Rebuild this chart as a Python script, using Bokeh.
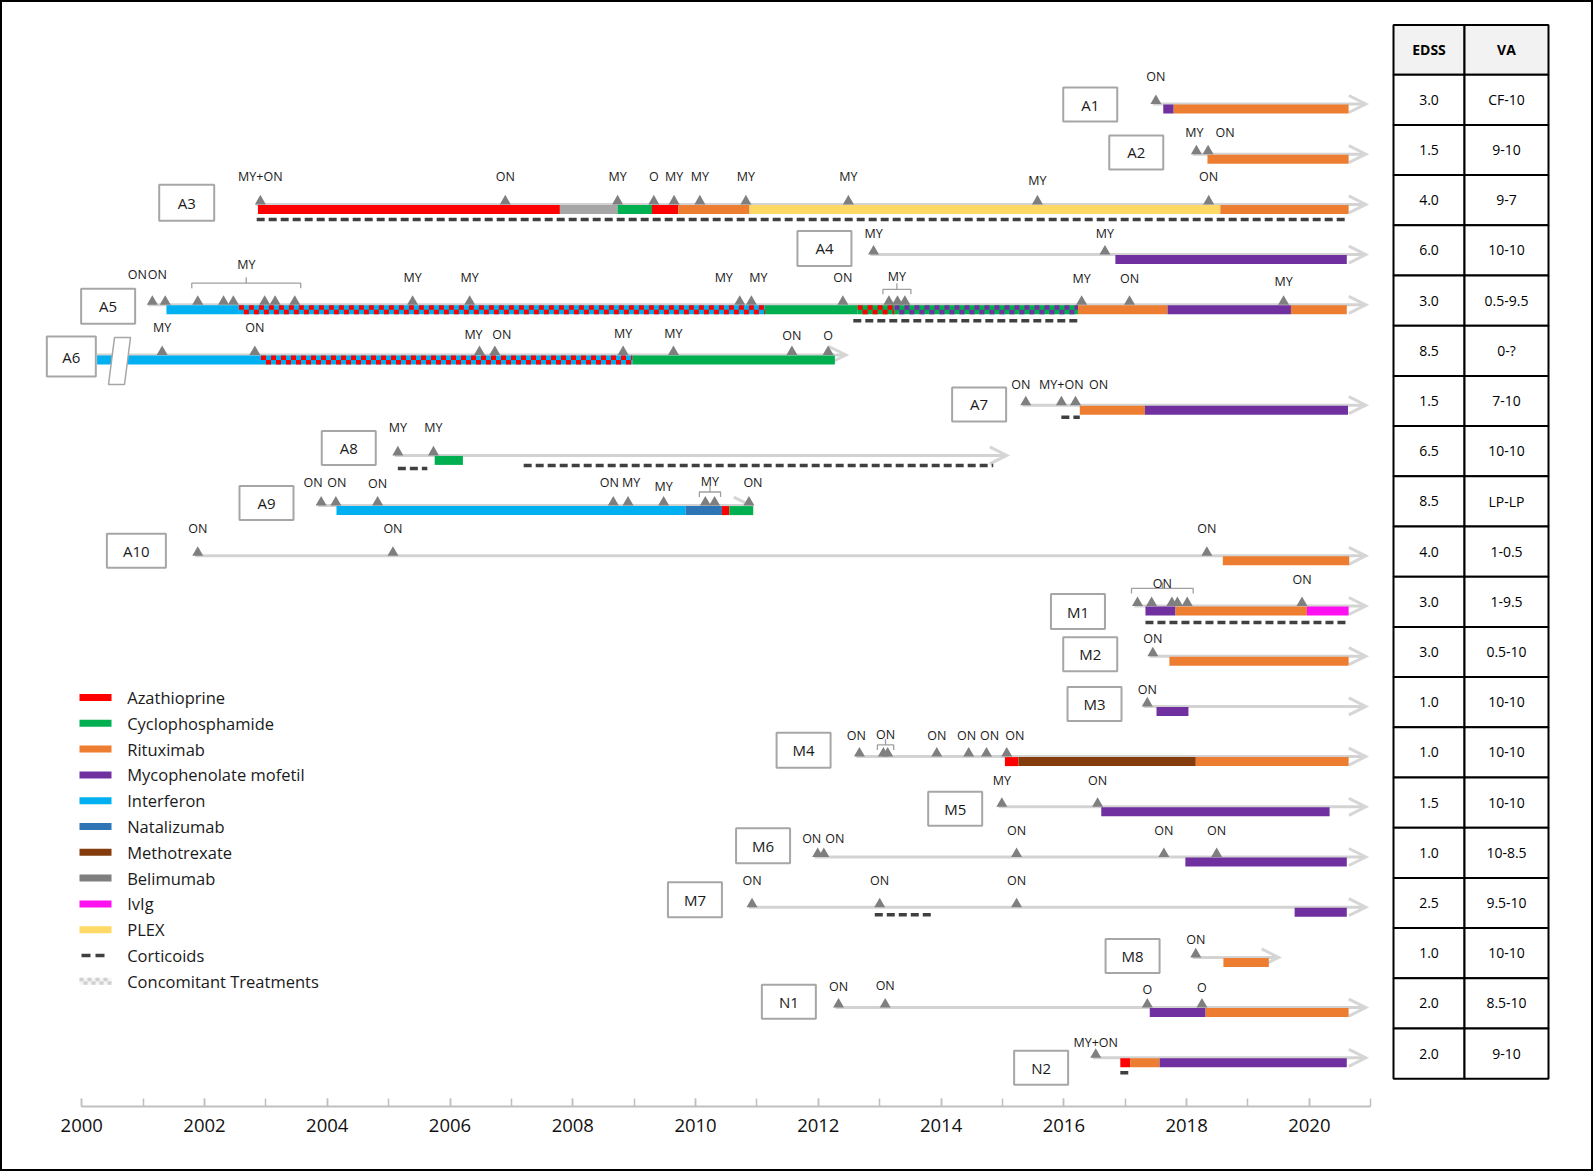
import numpy as np
from bokeh.plotting import figure
from bokeh.models import Range1d, FixedTicker
from bokeh.core.properties import value
from bokeh.embed import file_html
from bokeh.resources import INLINE

FONT = value("Open Sans")

# ---------------- DATA ----------------
patients = ["A1", "A2", "A3", "A4", "A5", "A6", "A7", "A8", "A9", "A10",
            "M1", "M2", "M3", "M4", "M5", "M6", "M7", "M8", "N1", "N2"]
edss = ["3.0", "1.5", "4.0", "6.0", "3.0", "8.5", "1.5", "6.5", "8.5", "4.0",
        "3.0", "3.0", "1.0", "1.0", "1.5", "1.0", "2.5", "1.0", "2.0", "2.0"]
va = ["CF-10", "9-10", "9-7", "10-10", "0.5-9.5", "0-?", "7-10", "10-10", "LP-LP", "1-0.5",
      "1-9.5", "0.5-10", "10-10", "10-10", "10-10", "10-8.5", "9.5-10", "10-10", "8.5-10", "9-10"]

drug_codes = ["AZA", "CYC", "RTX", "MMF", "IFN", "NTZ", "MTX", "BEL", "IVIG", "PLEX"]
drug_names = ["Azathioprine", "Cyclophosphamide", "Rituximab", "Mycophenolate mofetil",
              "Interferon", "Natalizumab", "Methotrexate", "Belimumab", "IvIg", "PLEX"]

tick_years = list(range(2000, 2021, 2))
tick_labels = [str(y) for y in tick_years]
minor_years = list(range(2000, 2022))

# follow-up timelines (start, end) per patient
fu_start = [2017.45, 2018.10, 2002.85, 2012.85, 2001.08, 2000.25, 2015.33, 2005.10, 2003.85, 2001.85,
            2017.15, 2017.40, 2017.30, 2012.62, 2014.94, 2011.94, 2010.87, 2018.10, 2012.28, 2016.47]
fu_end = [2020.92, 2020.92, 2020.92, 2020.92, 2020.92, 2012.45, 2020.92, 2015.07, 2010.90, 2020.92,
          2020.92, 2020.92, 2020.92, 2020.92, 2020.92, 2020.92, 2020.92, 2019.50, 2020.92, 2020.92]

# treatments: row, start, end, drug, concomitant drug ("" if none)
tr_row = [0, 0,
          1,
          2, 2, 2, 2, 2, 2, 2,
          3,
          4, 4, 4, 4, 4, 4, 4, 4,
          5, 5, 5,
          6, 6,
          7,
          8, 8, 8, 8,
          9,
          10, 10, 10,
          11,
          12,
          13, 13, 13,
          14,
          15,
          16,
          17,
          18, 18,
          19, 19, 19]
tr_start = [2017.62, 2017.79,
            2018.34,
            2002.87, 2007.79, 2008.73, 2009.29, 2009.72, 2010.88, 2018.55,
            2016.84,
            2001.38, 2002.56, 2011.13, 2012.64, 2013.24, 2016.23, 2017.69, 2019.70,
            2000.25, 2002.92, 2008.97,
            2016.26, 2017.32,
            2005.75,
            2004.15, 2009.84, 2010.43, 2010.55,
            2018.59,
            2017.33, 2017.82, 2019.96,
            2017.72,
            2017.51,
            2015.04, 2015.26, 2018.15,
            2016.61,
            2017.98,
            2019.76,
            2018.60,
            2017.40, 2018.31,
            2016.92, 2017.08, 2017.56]
tr_end = [2017.79, 2020.64,
          2020.64,
          2007.79, 2008.73, 2009.29, 2009.72, 2010.88, 2018.55, 2020.64,
          2020.61,
          2002.56, 2011.13, 2012.64, 2013.24, 2016.23, 2017.69, 2019.70, 2020.61,
          2002.92, 2008.97, 2012.27,
          2017.32, 2020.63,
          2006.21,
          2009.84, 2010.43, 2010.55, 2010.94,
          2020.65,
          2017.82, 2019.96, 2020.64,
          2020.64,
          2018.03,
          2015.26, 2018.15, 2020.64,
          2020.33,
          2020.61,
          2020.61,
          2019.34,
          2018.31, 2020.64,
          2017.08, 2017.56, 2020.61]
tr_drug = ["MMF", "RTX",
           "RTX",
           "AZA", "BEL", "CYC", "AZA", "RTX", "PLEX", "RTX",
           "MMF",
           "IFN", "IFN", "CYC", "CYC", "CYC", "RTX", "MMF", "RTX",
           "IFN", "IFN", "CYC",
           "RTX", "MMF",
           "CYC",
           "IFN", "NTZ", "AZA", "CYC",
           "RTX",
           "MMF", "RTX", "IVIG",
           "RTX",
           "MMF",
           "AZA", "MTX", "RTX",
           "MMF",
           "MMF",
           "MMF",
           "RTX",
           "MMF", "RTX",
           "AZA", "RTX", "MMF"]
tr_drug2 = ["", "",
            "",
            "", "", "", "", "", "", "",
            "",
            "", "AZA", "", "AZA", "MMF", "", "", "",
            "", "AZA", "",
            "", "",
            "",
            "", "", "", "",
            "",
            "", "", "",
            "",
            "",
            "", "", "",
            "",
            "",
            "",
            "",
            "", "",
            "", "", ""]

# corticoid courses
cs_row = [2, 4, 6, 7, 7, 10, 16, 19]
cs_start = [2002.85, 2012.57, 2015.96, 2005.15, 2007.20, 2017.33, 2012.92, 2016.92]
cs_end = [2020.58, 2016.23, 2016.26, 2005.63, 2014.85, 2020.59, 2013.85, 2017.05]

# clinical events: row, year, label, group (-1 = single)
ev_row = [0,
          1, 1,
          2, 2, 2, 2, 2, 2, 2, 2, 2, 2,
          3, 3,
          4, 4, 4, 4, 4, 4, 4, 4, 4, 4, 4, 4, 4, 4, 4, 4, 4, 4, 4,
          5, 5, 5, 5, 5, 5, 5, 5,
          6, 6, 6,
          7, 7,
          8, 8, 8, 8, 8, 8, 8, 8, 8,
          9, 9, 9,
          10, 10, 10, 10, 10, 10,
          11,
          12,
          13, 13, 13, 13, 13, 13, 13,
          14, 14,
          15, 15, 15, 15, 15,
          16, 16, 16,
          17,
          18, 18, 18, 18,
          19]
ev_year = [2017.50,
           2018.16, 2018.35,
           2002.91, 2006.90, 2008.73, 2009.32, 2009.65, 2010.07, 2010.82, 2012.49, 2015.57, 2018.36,
           2012.90, 2016.67,
           2001.15, 2001.36, 2001.89, 2002.31, 2002.47, 2002.98, 2003.15, 2003.47, 2005.39, 2006.32,
           2010.72, 2010.91, 2012.40, 2013.15, 2013.29, 2013.41, 2016.29, 2017.07, 2019.58,
           2001.31, 2002.82, 2006.48, 2006.73, 2008.82, 2009.64, 2011.57, 2012.16,
           2015.38, 2015.96, 2016.19,
           2005.15, 2005.73,
           2003.90, 2004.14, 2004.82, 2008.66, 2008.90, 2009.48, 2010.16, 2010.31, 2010.87,
           2001.89, 2005.07, 2018.33,
           2017.20, 2017.43, 2017.76, 2017.85, 2018.01, 2019.88,
           2017.45,
           2017.36,
           2012.67, 2013.06, 2013.13, 2013.93, 2014.45, 2014.74, 2015.07,
           2014.99, 2016.55,
           2011.99, 2012.09, 2015.23, 2017.63, 2018.49,
           2010.92, 2013.00, 2015.23,
           2018.15,
           2012.33, 2013.09, 2017.36, 2018.25,
           2016.52]
ev_label = ["ON",
            "MY", "ON",
            "MY+ON", "ON", "MY", "O", "MY", "MY", "MY", "MY", "MY", "ON",
            "MY", "MY",
            "ON", "ON", "", "", "", "", "", "", "MY", "MY", "MY", "MY", "ON", "", "", "", "MY", "ON", "MY",
            "MY", "ON", "MY", "ON", "MY", "MY", "ON", "O",
            "ON", "MY+ON", "ON",
            "MY", "MY",
            "ON", "ON", "ON", "ON", "MY", "MY", "", "", "ON",
            "ON", "ON", "ON",
            "", "", "", "", "", "ON",
            "ON",
            "ON",
            "ON", "", "", "ON", "ON", "ON", "ON",
            "MY", "ON",
            "ON", "ON", "ON", "ON", "ON",
            "ON", "ON", "ON",
            "ON",
            "ON", "ON", "O", "O",
            "MY+ON"]
ev_group = [-1,
            -1, -1,
            -1, -1, -1, -1, -1, -1, -1, -1, -1, -1,
            -1, -1,
            -1, -1, 0, 0, 0, 0, 0, 0, -1, -1, -1, -1, -1, 1, 1, 1, -1, -1, -1,
            -1, -1, -1, -1, -1, -1, -1, -1,
            -1, -1, -1,
            -1, -1,
            -1, -1, -1, -1, -1, -1, 2, 2, -1,
            -1, -1, -1,
            3, 3, 3, 3, 3, -1,
            -1,
            -1,
            -1, 4, 4, -1, -1, -1, -1,
            -1, -1,
            -1, -1, -1, -1, -1,
            -1, -1, -1,
            -1,
            -1, -1, -1, -1,
            -1]
grp_label = ["MY", "MY", "MY", "ON", "ON"]

# ---------------- LAYOUT / STYLE (pixels) ----------------
ev_dx = [0,
         -2, 17,
         0, 0, 0, 0, 0, 0, 0, 0, 0, 0,
         0, 0,
         -15, -8, 0, 0, 0, 0, 0, 0, 0, 0, -16, 7, 0, 0, 0, 0, 0, 0, 0,
         0, 0, -6, 7, 0, 0, 0, 0,
         -5, 0, 23,
         0, 0,
         -8, 1, 0, -4, 3, 0, 0, 0, 4,
         0, 0, 0,
         0, 0, 0, 0, 0, 0,
         0,
         0,
         -3, 0, 0, 0, -2, 3, 8,
         0, 0,
         -6, 11, 0, 0, 0,
         0, 0, 0,
         0,
         0, 0, 0, 0,
         0]
ev_h = [28,
        22, 22,
        28, 28, 28, 28, 28, 28, 28, 28, 24, 28,
        21, 21,
        30, 30, 0, 0, 0, 0, 0, 0, 27, 27, 27, 27, 27, 0, 0, 0, 26, 26, 23,
        28, 28, 21, 21, 22, 22, 20, 20,
        21, 21, 21,
        28, 28,
        23, 23, 22, 23, 23, 19, 0, 0, 23,
        27, 27, 27,
        0, 0, 0, 0, 0, 27,
        18,
        17,
        21, 0, 0, 21, 21, 21, 21,
        26, 26,
        19, 19, 27, 27, 27,
        27, 27, 27,
        18,
        21, 22, 18, 20,
        15]
grp_bh = [21.6, 15.5, 13.6, 17.6, 11.7]
grp_lh = [40, 28.5, 24, 23, 22]
cs_dy = [15, 16, 12, 13, 10, 16.5, 7.5, 15]

box_x = [2016.43, 2017.18, 2001.71, 2012.10, 2000.43, 1999.83, 2014.62, 2004.35, 2003.01, 2000.89,
         2016.23, 2016.43, 2016.50, 2011.76, 2014.23, 2011.10, 2009.99, 2017.12, 2011.52, 2015.63]
box_dy = [0.6, -1.8, -1.7, -6.2, 1.5, 1.6, -0.8, -7.4, -2.7, -5.1,
          5.6, -1.9, -2.3, -6.3, 1.9, -11.2, -7.5, -1.3, -5.8, 10]
box_w = [54, 54, 55, 54, 54, 49, 54, 54, 54, 59, 54, 54, 54, 54, 54, 54, 54, 54, 54, 54]
box_h = [34, 34, 36, 35, 35, 40, 34, 34, 34, 34, 35, 34, 34, 35, 34, 35, 35, 34, 34, 34]

colors = {"AZA": "#FF0000", "CYC": "#00B050", "RTX": "#ED7D31", "MMF": "#7030A0",
          "IFN": "#00B0F0", "NTZ": "#2E75B6", "MTX": "#843C0C", "BEL": "#A6A6A6",
          "IVIG": "#FF10F0", "PLEX": "#FFD966"}
legend_colors = dict(colors, BEL="#7F7F7F")

# pixel <-> data mapping
W, H = 1593, 1171
OX, OY = 2, 2             # page position of drawing origin
X0PX, PXY = 81.25, 61.38  # page x of 2000, px per year
Y0PX, PXR = 103.5, 50.2   # page y of row 0, px per row
AXIS_Y = 1106


def xyear(X):
    return 2000 + (X - X0PX) / PXY


def yrow(Y):
    return (Y - Y0PX) / PXR


def dx(px):
    return px / PXY


def dy(px):
    return px / PXR


frame_h = AXIS_Y - OY
p = figure(width=W, height=H,
           x_range=Range1d(xyear(OX), xyear(OX + W)),
           y_range=Range1d(start=yrow(AXIS_Y), end=yrow(OY)),
           output_backend="svg", toolbar_location=None, y_axis_location=None,
           min_border_left=0, min_border_right=0, min_border_top=0,
           min_border_bottom=H - frame_h, outline_line_color=None,
           background_fill_color="white", border_fill_color="white",
           styles={"border": "2px solid black"})
p.grid.visible = False

ax = p.xaxis[0]
ax.ticker = FixedTicker(ticks=tick_years, minor_ticks=minor_years)
ax.major_label_overrides = dict(zip(tick_years, tick_labels))
ax.bounds = (2000, 2021)
ax.axis_line_color = "#BFBFBF"
ax.axis_line_width = 2
ax.major_tick_in = 8
ax.major_tick_out = 0
ax.minor_tick_in = 8
ax.minor_tick_out = 0
ax.major_tick_line_color = "#BFBFBF"
ax.minor_tick_line_color = "#BFBFBF"
ax.major_tick_line_width = 1.5
ax.minor_tick_line_width = 1.5
ax.major_label_text_font = "Open Sans"
ax.major_label_text_font_size = "18.5px"
ax.major_label_text_color = "#111111"
ax.major_label_standoff = 12

rows = list(range(len(patients)))

# follow-up lines + arrow heads
p.segment(x0=fu_start, y0=rows, x1=[e - dx(2) for e in fu_end], y1=rows,
          line_color="#D3D3D3", line_width=3)
p.multi_line(xs=[[e - dx(17), e, e - dx(17)] for e in fu_end],
             ys=[[r - dy(8.5), r, r + dy(8.5)] for r in rows],
             line_color="#D6D6D6", line_width=3, line_join="miter")

# treatment bars
BT, BB = 0.5, 9.5
p.quad(left=tr_start, right=tr_end,
       top=[r + dy(BT) for r in tr_row], bottom=[r + dy(BB) for r in tr_row],
       fill_color=[colors[d] for d in tr_drug], line_color=None)


def checker(s, e, top, cw, ch, nrows):
    L, R, T, B = [], [], [], []
    step = dx(cw)
    n = int(np.ceil((e - s) / step - 1e-9))
    for i in range(n):
        for j in range(nrows):
            if (i + j) % 2 == 0:
                L.append(s + i * step)
                R.append(min(s + (i + 1) * step, e))
                T.append(top + j * dy(ch))
                B.append(top + (j + 1) * dy(ch))
    return L, R, T, B


for r, s, e, d2 in zip(tr_row, tr_start, tr_end, tr_drug2):
    if d2:
        L, R, T, B = checker(s, e, r + dy(BT), 5, (BB - BT) / 2, 2)
        p.quad(left=L, right=R, top=T, bottom=B, fill_color=colors[d2], line_color=None)

# corticoids
p.segment(x0=cs_start, x1=cs_end, y0=[r + dy(o) for r, o in zip(cs_row, cs_dy)],
          y1=[r + dy(o) for r, o in zip(cs_row, cs_dy)],
          line_color="#404040", line_width=3.5, line_dash="8 4")

# A6 axis break marker
brk = 2000.436
p.patch(x=[brk + dx(6), brk + dx(22), brk + dx(16), brk],
        y=[5 - dy(17.5), 5 - dy(17.5), 5 + dy(29.5), 5 + dy(29.5)],
        fill_color="white", line_color="#A6A6A6", line_width=1.5)

# brackets for grouped events
bx, by = [], []
glx, gly, gtx = [], [], []
for g, lab in enumerate(grp_label):
    yrs = [y for y, gg in zip(ev_year, ev_group) if gg == g]
    rr = [r for r, gg in zip(ev_row, ev_group) if gg == g][0]
    x0, x1 = min(yrs) - dx(6), max(yrs) + dx(6)
    yb = rr - dy(grp_bh[g])
    bx.append([x0, x0, x1, x1])
    by.append([yb + dy(5), yb, yb, yb + dy(5)])
    xm = (x0 + x1) / 2
    bx.append([xm, xm])
    by.append([yb, yb - dy(6)])
    glx.append(xm)
    gly.append(rr - dy(grp_lh[g]))
    gtx.append(lab)
p.multi_line(xs=bx, ys=by, line_color="#A0A0A0", line_width=1.3)
p.text(x=glx, y=gly, text=gtx, text_font=FONT, text_font_size="12.5px",
       text_align="center", text_baseline="middle", text_color="#1a1a1a")

# events (triangles)
p.scatter(x=ev_year, y=[r - dy(3.2) for r in ev_row], marker="triangle", size=11,
          fill_color="#7F7F7F", line_color=None)
lab_idx = [i for i, l in enumerate(ev_label) if l]
p.text(x=[ev_year[i] for i in lab_idx], y=[ev_row[i] - dy(ev_h[i]) for i in lab_idx],
       text=[ev_label[i] for i in lab_idx], x_offset=[ev_dx[i] for i in lab_idx],
       text_font=FONT, text_font_size="12.5px", text_align="center",
       text_baseline="middle", text_color="#1a1a1a")

# patient boxes
p.rect(x=box_x, y=[r + dy(o) for r, o in zip(rows, box_dy)],
       width=[dx(w) for w in box_w], height=[dy(h) for h in box_h],
       fill_color="white", line_color="#A6A6A6", line_width=2)
p.text(x=box_x, y=[r + dy(o) for r, o in zip(rows, box_dy)], text=patients,
       text_font=FONT, text_font_size="15px", text_align="center",
       text_baseline="middle", text_color="#1a1a1a")

# table
tx0, tx1, tx2 = xyear(1393), xyear(1464), xyear(1548)
ht, hb = yrow(24.4), yrow(74.2)
p.quad(left=[tx0, tx1], right=[tx1, tx2], top=[ht, ht], bottom=[hb, hb],
       fill_color="#F2F2F2", line_color="black", line_width=2)
rtop = [hb + r for r in rows]
p.quad(left=[tx0] * 20 + [tx1] * 20, right=[tx1] * 20 + [tx2] * 20,
       top=rtop + rtop, bottom=[t + 1 for t in rtop] * 2,
       fill_color="white", line_color="black", line_width=2)
cx1, cx2 = (tx0 + tx1) / 2, (tx1 + tx2) / 2
p.text(x=[cx1, cx2], y=[(ht + hb) / 2] * 2, text=["EDSS", "VA"], text_font=FONT,
       text_font_size="14px", text_font_style="bold", text_align="center",
       text_baseline="middle", text_color="black")
p.text(x=[cx1] * 20 + [cx2] * 20, y=[t + 0.5 for t in rtop] * 2, text=edss + va,
       text_font=FONT, text_font_size="14px", text_align="center",
       text_baseline="middle", text_color="black")

# legend
LY0, LSP = 697, 25.8
lx0, lx1, ltx = xyear(79), xyear(111), xyear(126.7)
ly = [yrow(LY0 + LSP * i) for i in range(12)]
p.quad(left=[lx0] * 10, right=[lx1] * 10, top=[y - dy(3.5) for y in ly[:10]],
       bottom=[y + dy(3.5) for y in ly[:10]],
       fill_color=[legend_colors[c] for c in drug_codes], line_color=None)
p.segment(x0=[xyear(81)], x1=[xyear(104)], y0=[ly[10]], y1=[ly[10]],
          line_color="#404040", line_width=3.5, line_dash="9 5")
p.quad(left=[lx0], right=[lx1], top=[ly[11] - dy(3.5)], bottom=[ly[11] + dy(3.5)],
       fill_color="#F4F4F4", line_color=None)
L, R, T, B = checker(lx0, lx1, ly[11] - dy(3.5), 4, 3.5, 2)
p.quad(left=L, right=R, top=T, bottom=B, fill_color="#D0D0D0", line_color=None)
p.text(x=[ltx] * 12, y=ly, text=drug_names + ["Corticoids", "Concomitant Treatments"],
       text_font=FONT, text_font_size="16.5px", text_align="left",
       text_baseline="middle", text_color="#1a1a1a")

open("out.html", "w").write(file_html(p, INLINE))
